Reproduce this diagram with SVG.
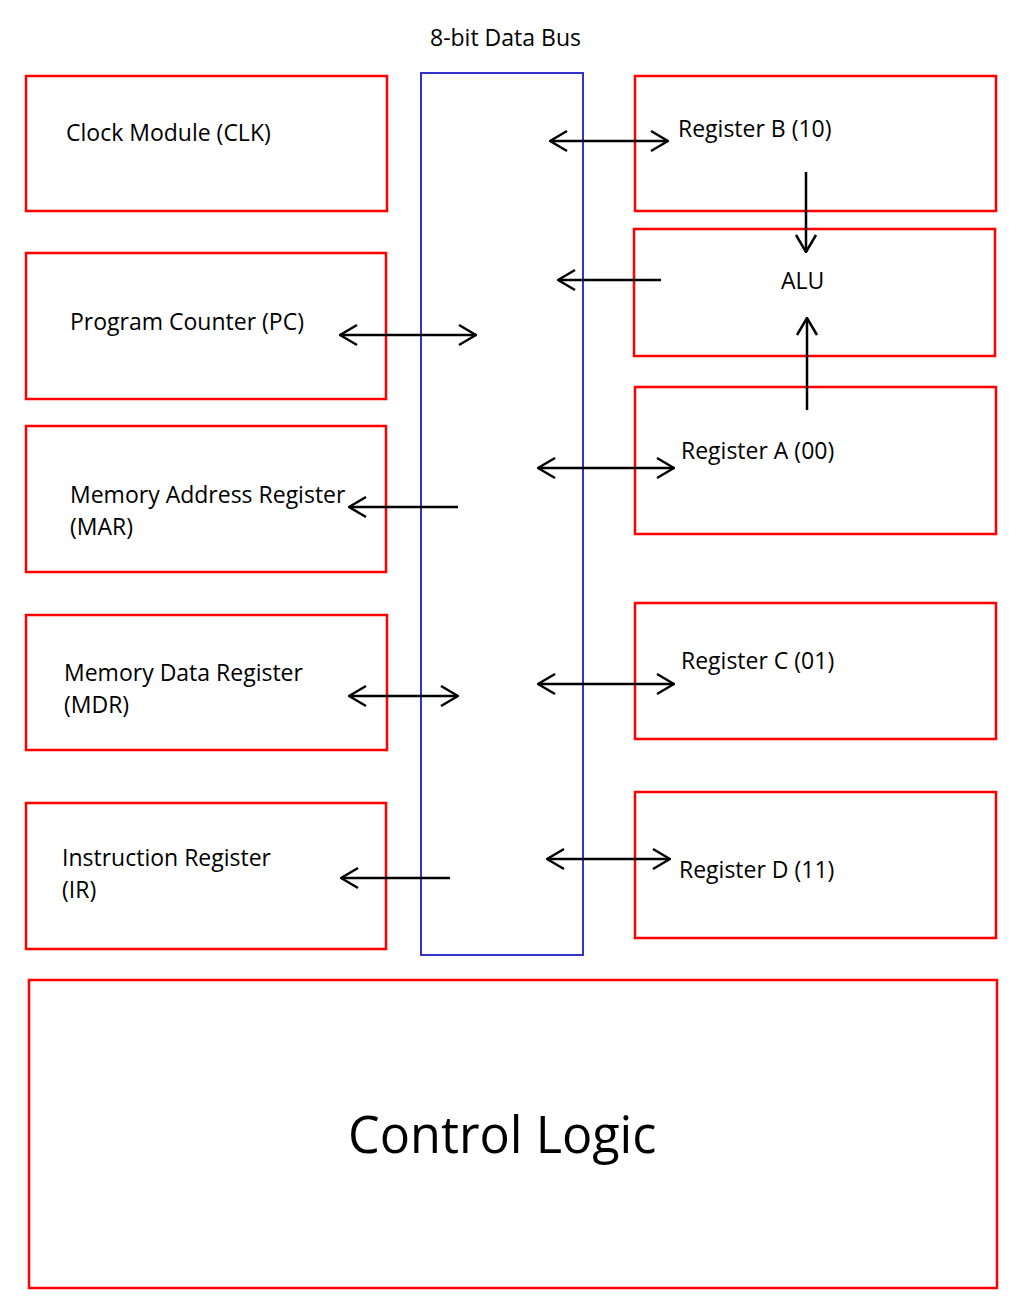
<svg xmlns="http://www.w3.org/2000/svg" width="1027" height="1312" viewBox="0 0 1027 1312">
<defs>
<marker id="ah" viewBox="0 0 20 24" refX="19" refY="12" markerWidth="20" markerHeight="24" markerUnits="userSpaceOnUse" orient="auto-start-reverse">
<polyline points="2,2 19,12 2,22" fill="none" stroke="#000" stroke-width="2.5"/>
</marker>
<style>
.box{fill:#fff;stroke:#ff0000;stroke-width:2.5}
.bus{fill:none;stroke:#3333cc;stroke-width:2}
text{font-family:"Open Sans","Noto Sans",sans-serif;font-size:23px;fill:#000}
.c{stroke:#000;stroke-width:2.5;fill:none}
.big{font-size:50.4px}
</style>
</defs>
<rect width="1027" height="1312" fill="#fff"/>
<g id="bus">
<rect class="bus" x="421" y="73" width="162" height="882"/>
<text x="430" y="46">8-bit Data Bus</text>
</g>
<g id="clk"><rect class="box" x="26" y="76" width="361" height="135"/><text x="66" y="141">Clock Module (CLK)</text></g>
<g id="pc"><rect class="box" x="26" y="253" width="360" height="146"/><text x="70" y="330">Program Counter (PC)</text></g>
<g id="mar"><rect class="box" x="26" y="426" width="360" height="146"/><text x="70" y="503">Memory Address Register</text><text x="70" y="535">(MAR)</text></g>
<g id="mdr"><rect class="box" x="26" y="615" width="361" height="135"/><text x="64" y="681">Memory Data Register</text><text x="64" y="713">(MDR)</text></g>
<g id="ir"><rect class="box" x="26" y="803" width="360" height="146"/><text x="62" y="866">Instruction Register</text><text x="62" y="898">(IR)</text></g>
<g id="regb"><rect class="box" x="635" y="76" width="361" height="135"/><text x="678" y="137">Register B (10)</text></g>
<g id="alu"><rect class="box" x="634" y="229" width="361" height="127"/><text x="781" y="289">ALU</text></g>
<g id="rega"><rect class="box" x="635" y="387" width="361" height="147"/><text x="681" y="459">Register A (00)</text></g>
<g id="regc"><rect class="box" x="635" y="603" width="361" height="136"/><text x="681" y="669">Register C (01)</text></g>
<g id="regd"><rect class="box" x="635" y="792" width="361" height="146"/><text x="679" y="878">Register D (11)</text></g>
<g id="ctrl"><rect class="box" x="29" y="980" width="968" height="308"/><text class="big" x="348" y="1153">Control Logic</text></g>
<g id="connectors">
<line class="c" x1="550" y1="141" x2="668" y2="141" marker-start="url(#ah)" marker-end="url(#ah)"/>
<line class="c" x1="661" y1="280" x2="558" y2="280" marker-end="url(#ah)"/>
<line class="c" x1="538" y1="468" x2="674" y2="468" marker-start="url(#ah)" marker-end="url(#ah)"/>
<line class="c" x1="538" y1="684" x2="674" y2="684" marker-start="url(#ah)" marker-end="url(#ah)"/>
<line class="c" x1="547" y1="859" x2="670" y2="859" marker-start="url(#ah)" marker-end="url(#ah)"/>
<line class="c" x1="340" y1="335" x2="476" y2="335" marker-start="url(#ah)" marker-end="url(#ah)"/>
<line class="c" x1="458" y1="507" x2="349" y2="507" marker-end="url(#ah)"/>
<line class="c" x1="349" y1="696" x2="458" y2="696" marker-start="url(#ah)" marker-end="url(#ah)"/>
<line class="c" x1="450" y1="878" x2="341" y2="878" marker-end="url(#ah)"/>
<line class="c" x1="806" y1="172" x2="806" y2="252" marker-end="url(#ah)"/>
<line class="c" x1="807" y1="410" x2="807" y2="318" marker-end="url(#ah)"/>
</g>
</svg>
